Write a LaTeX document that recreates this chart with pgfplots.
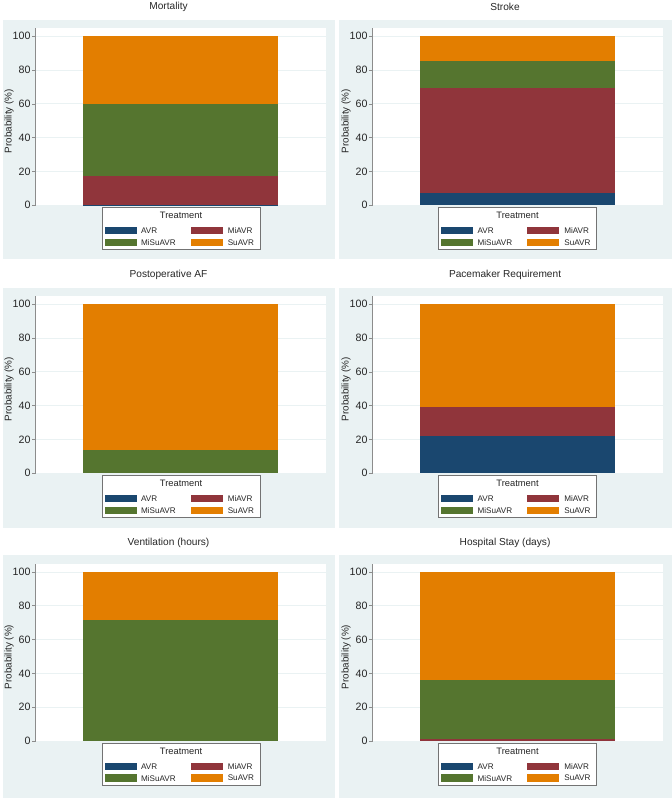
\documentclass[border=0pt]{standalone}
\usepackage{fontspec}
\setmainfont{Liberation Sans}
\usepackage{pgfplots}
\pgfplotsset{compat=1.18}

\definecolor{avr}{HTML}{1A476F}
\definecolor{miavr}{HTML}{90353B}
\definecolor{misuavr}{HTML}{55752F}
\definecolor{suavr}{HTML}{E37E00}
\definecolor{bgblue}{HTML}{EAF2F3}
\definecolor{gridc}{HTML}{EAF2F3}
\definecolor{axisc}{HTML}{8C8C8C}
\definecolor{txt}{HTML}{262626}

\newcommand{\titlefont}{\fontsize{7.6}{9}\selectfont}
\newcommand{\legtitlefont}{\fontsize{7}{8.4}\selectfont}
\newcommand{\legfont}{\fontsize{6.1}{7.3}\selectfont}

% panel title, centred on the panel (coordinates in px, y down)
\newcommand{\paneltitle}[3]{\node[font=\titlefont, text=txt] at (#1,#2-13.5) {#3};}

% Stata-like legend box below the plot region
\newcommand{\legendbox}[2]{%
  \draw[black!55, line width=0.5pt, fill=white] (#1-79,#2+187.5) rectangle (#1+79,#2+229.5);
  \node[font=\legtitlefont, text=txt] at (#1,#2+195.5) {Treatment};
  \fill[avr]     (#1-76.2,#2+206.7) rectangle (#1-44.2,#2+214);
  \fill[miavr]   (#1+9.8,#2+206.7)  rectangle (#1+41.5,#2+214);
  \fill[misuavr] (#1-76.2,#2+218.4) rectangle (#1-44.2,#2+225.7);
  \fill[suavr]   (#1+9.8,#2+218.4)  rectangle (#1+41.5,#2+225.7);
  \node[anchor=west, inner sep=0pt, font=\legfont, text=txt] at (#1-40.2,#2+210.4) {AVR};
  \node[anchor=west, inner sep=0pt, font=\legfont, text=txt] at (#1+46.5,#2+210.4) {MiAVR};
  \node[anchor=west, inner sep=0pt, font=\legfont, text=txt] at (#1-40.2,#2+222.1) {MiSuAVR};
  \node[anchor=west, inner sep=0pt, font=\legfont, text=txt] at (#1+46.5,#2+222.1) {SuAVR};
}

\pgfplotsset{
  panel/.style={
    width=217.5pt, height=132.75pt, scale only axis, anchor=north west,
    xmin=0, xmax=1, ymin=0, ymax=104.7,
    axis x line=none, axis y line*=left,
    ytick={0,20,40,60,80,100},
    /pgf/number format/assume math mode=true,
    ymajorgrids=true,
    grid style={draw=gridc, line width=0.6pt},
    axis background/.style={fill=white},
    ybar stacked, bar width=146.25pt,
    y axis line style={draw=axisc, line width=0.5pt},
    major tick length=2.6pt, tick align=outside,
    ytick style={draw=axisc, line width=0.5pt},
    yticklabel style={font=\fontsize{8}{9.6}\selectfont, text=txt, inner sep=1pt},
    ylabel={Probability (\%)},
    ylabel style={font=\fontsize{7.4}{8.9}\selectfont, text=txt,
      at={(axis description cs:-0.0914,0.475)}, anchor=center},
  },
}

\begin{document}
\begin{tikzpicture}
\begin{scope}[x=0.75pt, y=-0.75pt]
  \useasboundingbox (0,0) rectangle (669,798);
  \fill[white] (0,0) rectangle (669,798);
  % panel backgrounds
  \fill[bgblue] (0,20)     rectangle (332,259.5);
  \fill[bgblue] (336,20)   rectangle (669,259.5);
  \fill[bgblue] (0,287.5)  rectangle (332,527.5);
  \fill[bgblue] (336,287.5) rectangle (669,527.5);
  \fill[bgblue] (0,555)    rectangle (332,798);
  \fill[bgblue] (336,555)  rectangle (669,798);
  % titles
  \paneltitle{166}{20.3}{Mortality}
  \paneltitle{502.5}{20.3}{Stroke}
  \paneltitle{166}{288.3}{Postoperative AF}
  \paneltitle{502.5}{288.3}{Pacemaker Requirement}
  \paneltitle{166}{556}{Ventilation (hours)}
  \paneltitle{502.5}{556}{Hospital Stay (days)}
  % legends
  \legendbox{178.5}{20.3}
  \legendbox{515}{20.3}
  \legendbox{178.5}{288.3}
  \legendbox{515}{288.3}
  \legendbox{178.5}{556}
  \legendbox{515}{556}
\end{scope}

% Mortality
\begin{axis}[panel, at={(24.75pt,-21.225pt)}]
  \addplot[fill=avr, draw=none] coordinates {(0.5,0.3)};
  \addplot[fill=miavr, draw=none] coordinates {(0.5,16.9)};
  \addplot[fill=misuavr, draw=none] coordinates {(0.5,42.8)};
  \addplot[fill=suavr, draw=none] coordinates {(0.5,40.0)};
\end{axis}

% Stroke
\begin{axis}[panel, at={(277.5pt,-21.225pt)}]
  \addplot[fill=avr, draw=none] coordinates {(0.5,7.0)};
  \addplot[fill=miavr, draw=none] coordinates {(0.5,62.3)};
  \addplot[fill=misuavr, draw=none] coordinates {(0.5,16.3)};
  \addplot[fill=suavr, draw=none] coordinates {(0.5,14.4)};
\end{axis}

% Postoperative AF
\begin{axis}[panel, at={(24.75pt,-222.225pt)}]
  \addplot[fill=avr, draw=none] coordinates {(0.5,0)};
  \addplot[fill=miavr, draw=none] coordinates {(0.5,0)};
  \addplot[fill=misuavr, draw=none] coordinates {(0.5,13.9)};
  \addplot[fill=suavr, draw=none] coordinates {(0.5,86.1)};
\end{axis}

% Pacemaker Requirement
\begin{axis}[panel, at={(277.5pt,-222.225pt)}]
  \addplot[fill=avr, draw=none] coordinates {(0.5,22.1)};
  \addplot[fill=miavr, draw=none] coordinates {(0.5,17.3)};
  \addplot[fill=misuavr, draw=none] coordinates {(0.5,0)};
  \addplot[fill=suavr, draw=none] coordinates {(0.5,60.6)};
\end{axis}

% Ventilation (hours)
\begin{axis}[panel, at={(24.75pt,-423pt)}]
  \addplot[fill=avr, draw=none] coordinates {(0.5,0)};
  \addplot[fill=miavr, draw=none] coordinates {(0.5,0)};
  \addplot[fill=misuavr, draw=none] coordinates {(0.5,71.7)};
  \addplot[fill=suavr, draw=none] coordinates {(0.5,28.3)};
\end{axis}

% Hospital Stay (days)
\begin{axis}[panel, at={(277.5pt,-423pt)}]
  \addplot[fill=avr, draw=none] coordinates {(0.5,0)};
  \addplot[fill=miavr, draw=none] coordinates {(0.5,1.2)};
  \addplot[fill=misuavr, draw=none] coordinates {(0.5,34.6)};
  \addplot[fill=suavr, draw=none] coordinates {(0.5,64.2)};
\end{axis}
\end{tikzpicture}
\end{document}
